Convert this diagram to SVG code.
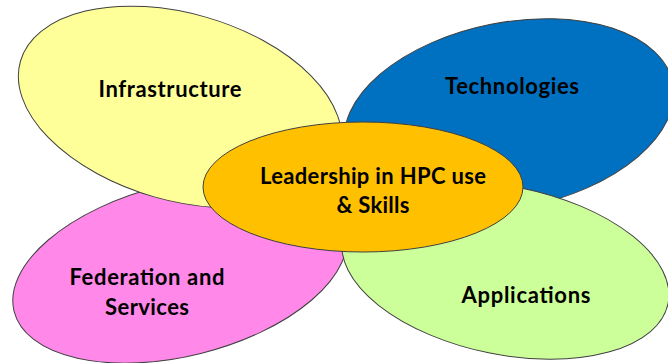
<svg xmlns="http://www.w3.org/2000/svg" width="668" height="363" viewBox="0 0 668 363">
<style>
.e{stroke:#404040;stroke-width:1}
.t{font-family:Lato,"Liberation Sans",Arial,sans-serif;font-weight:bold;font-size:22px;fill:#000;text-anchor:middle}
</style>
<rect width="668" height="363" fill="#fff"/>
<g id="pink"><ellipse class="e" cx="180" cy="270" rx="171" ry="86" transform="rotate(-14 180 270)" fill="#FF88E8"/></g>
<g id="yellow"><ellipse class="e" cx="180" cy="107" rx="166" ry="93.5" transform="rotate(16 180 107)" fill="#FFFF99"/></g>
<g id="blue"><ellipse class="e" cx="509" cy="115.5" rx="167" ry="93" transform="rotate(-11.2 509 115.5)" fill="#0070C0"/></g>
<g id="green"><ellipse class="e" cx="505.4" cy="270.5" rx="166" ry="84" transform="rotate(11.5 505.4 270.5)" fill="#CCFF99"/></g>
<g id="center"><ellipse class="e" cx="363" cy="187" rx="160" ry="65" fill="#FFC000"/></g>
<g id="labels">
<text class="t" x="170" y="97" textLength="143">Infrastructure</text>
<text class="t" x="512" y="94" textLength="134">Technologies</text>
<text class="t" x="373" y="184" textLength="226">Leadership in HPC use</text>
<text class="t" x="373" y="213" textLength="73">&amp; Skills</text>
<text class="t" x="147" y="285" textLength="155">Federation and</text>
<text class="t" x="147" y="315" textLength="84">Services</text>
<text class="t" x="526" y="303" textLength="129">Applications</text>
</g>
</svg>
